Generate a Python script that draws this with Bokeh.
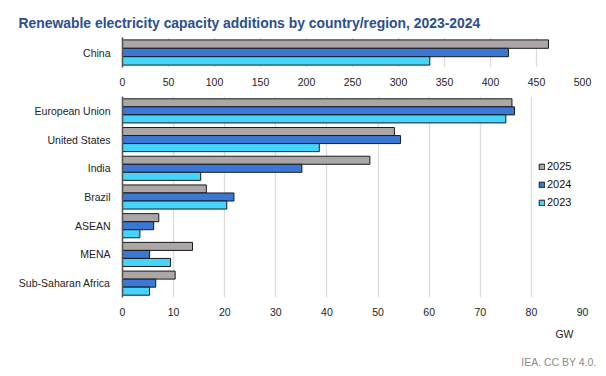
from bokeh.plotting import figure
from bokeh.models import FactorRange, Range1d, Legend, LegendItem, Title, ColumnDataSource
from bokeh.layouts import column
from bokeh.transform import dodge
from bokeh.embed import file_html
from bokeh.resources import INLINE

# ---- data ----
years = ["2025", "2024", "2023"]
colors = ["#ABA7A7", "#3B78D5", "#45D4FC"]

top_regions = ["China"]
top_2025 = [463]
top_2024 = [419.5]
top_2023 = [334]

regions = ["European Union", "United States", "India", "Brazil", "ASEAN", "MENA", "Sub-Saharan Africa"]
v2025 = [76.2, 53.2, 48.4, 16.4, 7.1, 13.7, 10.3]
v2024 = [76.7, 54.4, 35.1, 21.8, 6.1, 5.3, 6.5]
v2023 = [75.0, 38.5, 15.3, 20.4, 3.4, 9.4, 5.3]

top_ticks = [0, 50, 100, 150, 200, 250, 300, 350, 400, 450, 500]
bottom_ticks = [0, 10, 20, 30, 40, 50, 60, 70, 80, 90]

title_text = "Renewable electricity capacity additions by country/region, 2023-2024"
unit_text = "GW"
source_text = "IEA. CC BY 4.0."

FONT = "Liberation Sans"
TXT = "#222222"
BAR_H = 0.28


def style(p, ticks):
    p.background_fill_color = "white"
    p.border_fill_color = "white"
    p.outline_line_color = None
    p.ygrid.grid_line_color = None
    p.xgrid.grid_line_color = "#dcdcdc"
    p.xgrid.grid_line_width = 1.3
    p.xaxis.ticker = ticks
    p.xaxis.axis_line_color = None
    p.xaxis.major_tick_line_color = None
    p.xaxis.minor_tick_line_color = None
    p.xaxis.major_label_standoff = 4
    p.xaxis.major_label_text_font = FONT
    p.xaxis.major_label_text_font_size = "10.5px"
    p.xaxis.major_label_text_color = TXT
    p.yaxis.axis_line_color = "#555555"
    p.yaxis.axis_line_width = 1.6
    p.yaxis.major_tick_line_color = None
    p.yaxis.minor_tick_line_color = None
    p.yaxis.major_label_standoff = 6
    p.yaxis.major_label_text_font = FONT
    p.yaxis.major_label_text_font_size = "10.5px"
    p.yaxis.major_label_text_color = TXT


def bars(p, src, cols):
    rs = []
    for off, col, c in zip([BAR_H, 0, -BAR_H], cols, colors):
        r = p.hbar(y=dodge("region", off, range=p.y_range), left=0, right=col,
                   height=BAR_H, source=src, fill_color=c, line_color="#1a1a1a", line_width=1)
        rs.append(r)
    return rs


# ---- top figure (China) ----
p1 = figure(width=606, height=90, x_range=Range1d(0, 500),
            y_range=FactorRange(factors=top_regions, range_padding=0),
            output_backend="svg", toolbar_location=None,
            min_border_left=120, min_border_right=24, min_border_top=37, min_border_bottom=23,
            title=title_text)
p1.title.text_font = FONT
p1.title.text_font_style = "bold"
p1.title.text_font_size = "13.9px"
p1.title.text_color = "#2B4F8E"
p1.title.align = "left"
p1.title.offset = -104
p1.title.standoff = 13
style(p1, top_ticks)
src1 = ColumnDataSource(dict(region=top_regions, a=top_2025, b=top_2024, c=top_2023))
bars(p1, src1, ["a", "b", "c"])

# ---- bottom figure ----
p2 = figure(width=606, height=286, x_range=Range1d(0, 90),
            y_range=FactorRange(factors=regions[::-1], range_padding=0),
            output_backend="svg", toolbar_location=None,
            min_border_left=122, min_border_right=23, min_border_top=6, min_border_bottom=79)
style(p2, bottom_ticks)
src2 = ColumnDataSource(dict(region=regions, a=v2025, b=v2024, c=v2023))
rs = bars(p2, src2, ["a", "b", "c"])

legend = Legend(items=[LegendItem(label=y, renderers=[r]) for y, r in zip(years, rs)],
                location=(416, 88), padding=0, margin=0, spacing=4,
                glyph_width=7, glyph_height=7, label_height=14, label_standoff=2,
                label_text_font=FONT, label_text_font_size="11px", label_text_color="#111111",
                background_fill_alpha=0, border_line_alpha=0)
p2.add_layout(legend)

p2.add_layout(Title(text=unit_text, align="right", offset=9, standoff=14,
                    text_font=FONT, text_font_size="10.5px", text_font_style="normal",
                    text_color=TXT), "below")
p2.add_layout(Title(text=source_text, align="right", offset=-14, standoff=15,
                    text_font=FONT, text_font_size="10.5px", text_font_style="normal",
                    text_color="#8a8a8a"), "below")

layout = column(p1, p2, spacing=0)
open("out.html", "w").write(file_html(layout, INLINE))
